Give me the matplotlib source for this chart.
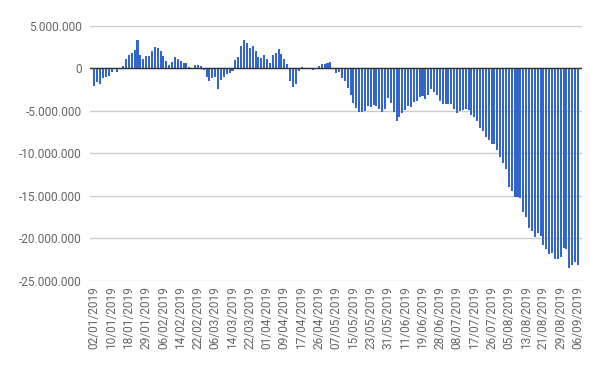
import matplotlib
matplotlib.use('Agg')
import matplotlib.pyplot as plt
from matplotlib.ticker import FuncFormatter

# saldo diario (em milhoes), um valor por pregao de 02/01/2019 a 06/09/2019
saldo_jan_mar = [-2.1, -1.67, -1.9, -1.2, -1.07, -0.87, -0.4, -0.12, -0.4, 0.02,
                 0.24, 1.07, 1.5, 1.75, 2.14, 3.33, 1.55, 1.07, 1.39, 1.39,
                 2.0, 2.5, 2.38, 2.0, 1.39, 0.8, 0.36, 0.71, 1.31, 1.11,
                 0.8, 0.6, 0.6, 0.16, 0.03, 0.36, 0.36, 0.24, -0.2, -1.07]
saldo_mar_mai = [-1.56, -1.16, -1.04, -2.4, -1.44, -1.08, -0.72, -0.6, -0.36, 0.96,
                 1.32, 2.64, 3.36, 3.0, 2.4, 2.64, 2.04, 1.32, 1.2, 1.56,
                 1.08, 0.6, 1.56, 1.8, 2.28, 1.68, 1.08, 0.48, -1.56, -2.16,
                 -1.8, -0.36, 0.16, 0.02, 0.02, -0.05, -0.24, 0.02, 0.24, 0.48,
                 0.48, 0.6, 0.72]
saldo_mai_jul = [0.02, -0.6, -0.45, -1.2, -1.45, -2.35, -3.2, -4.1, -4.7, -5.2,
                 -5.2, -5.0, -4.5, -4.6, -4.3, -4.5, -4.8, -5.1, -4.8, -3.5,
                 -4.1, -5.1, -6.2, -5.7, -5.3, -4.9, -4.5, -4.6, -4.0, -3.85,
                 -3.4, -3.25, -3.6, -3.2, -2.5, -2.8, -3.1, -3.85, -4.2, -4.2]
saldo_jul_ago = [-4.2, -4.2, -4.82, -5.29, -5.06, -4.86, -4.78, -4.9, -5.53, -5.76,
                 -6.24, -6.98, -7.41, -8.12, -8.47, -8.94, -8.94, -9.65, -10.4, -11.18,
                 -11.88, -14.0, -14.47, -15.1, -15.1]
saldo_ago_set = [-15.3, -16.9, -17.45, -18.8, -19.1, -19.9, -19.4, -19.7, -20.8, -21.3,
                 -21.9, -21.8, -22.5, -22.5, -22.2, -21.1, -21.3, -23.5, -23.1, -22.8,
                 -23.2]

datas = ["02/01/2019", "10/01/2019", "18/01/2019", "29/01/2019", "06/02/2019",
         "14/02/2019", "22/02/2019", "06/03/2019", "14/03/2019", "22/03/2019",
         "01/04/2019", "09/04/2019", "17/04/2019", "26/04/2019", "07/05/2019",
         "15/05/2019", "23/05/2019", "31/05/2019", "11/06/2019", "19/06/2019",
         "28/06/2019", "08/07/2019", "17/07/2019", "26/07/2019", "05/08/2019",
         "13/08/2019", "21/08/2019", "29/08/2019", "06/09/2019"]
passo_datas = 6

saldo = saldo_jan_mar + saldo_mar_mai + saldo_mai_jul + saldo_jul_ago + saldo_ago_set
valores = [v * 1_000_000 for v in saldo]
posicoes = list(range(len(valores)))

plt.rcParams['font.family'] = ['Roboto', 'DejaVu Sans']
cinza = '#666666'

fig = plt.figure(figsize=(6, 3.71), dpi=100)
ax = fig.add_axes([0.15, 0.2434, 0.8195, 0.6873])

ax.bar(posicoes, valores, width=0.7, color='#3366cc', zorder=3)
ax.axhline(0, color='#333333', linewidth=1, zorder=4)

ax.set_ylim(-25_000_000, 5_000_000)
ax.set_yticks(range(-25_000_000, 5_000_001, 5_000_000))
ax.yaxis.set_major_formatter(FuncFormatter(lambda v, p: f"{int(v):,}".replace(",", ".")))
ax.grid(axis='y', color='#cccccc', linewidth=1, zorder=0)

ax.set_xlim(-1.5, 169.3)
ax.set_xticks(posicoes[::passo_datas])
ax.set_xticklabels(datas, rotation=90, va='top', ha='center')

ax.tick_params(axis='both', length=0, labelsize=8.6, colors=cinza)
ax.tick_params(axis='y', pad=6)
ax.tick_params(axis='x', pad=4)
for lado in ax.spines.values():
    lado.set_visible(False)

fig.savefig("out.png", dpi=100)
plt.close(fig)
